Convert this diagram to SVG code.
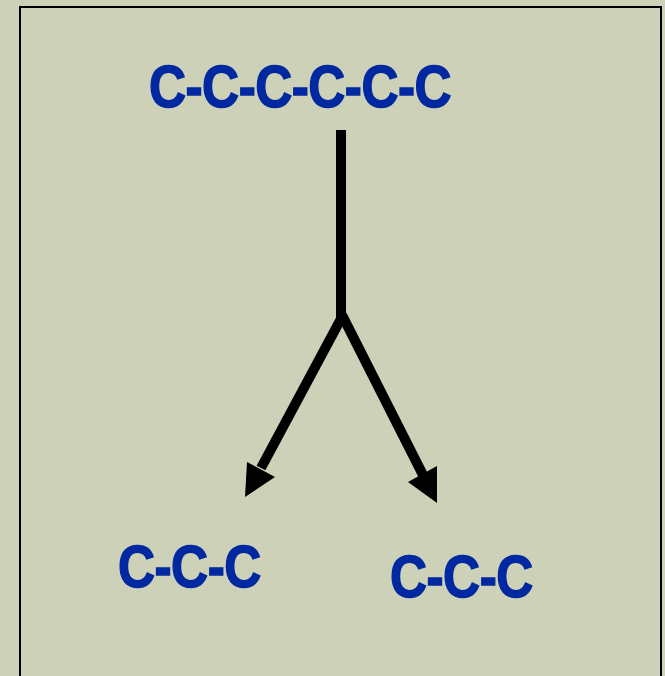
<svg xmlns="http://www.w3.org/2000/svg" width="665" height="676" viewBox="0 0 665 676">
<style>
.lbl{font-family:"Liberation Sans",Arial,sans-serif;font-weight:bold;font-size:59px;letter-spacing:-0.6px;fill:#0028A0;stroke:#0028A0;stroke-width:1.5px}
.ln{stroke:#000;stroke-width:10;fill:none}
</style>
<rect x="0" y="0" width="665" height="676" fill="#CCD1B8"/>
<rect x="20" y="7" width="641" height="680" fill="#CCD1B8" stroke="#000" stroke-width="2"/>
<g id="connectors">
<path class="ln" d="M341,130 L341,318"/>
<path class="ln" d="M343,315 L261,468"/>
<path class="ln" d="M342,315 L423,475"/>
<polygon points="245,497 275,477 247,462" fill="#000"/>
<polygon points="437,503 408,482 437,466" fill="#000"/>
</g>
<g id="node-top"><text class="lbl" transform="translate(149,107) scale(0.87,1)">C-C-C-C-C-C</text></g>
<g id="node-left"><text class="lbl" transform="translate(118,587) scale(0.87,1)">C-C-C</text></g>
<g id="node-right"><text class="lbl" transform="translate(390,597) scale(0.87,1)">C-C-C</text></g>
</svg>
